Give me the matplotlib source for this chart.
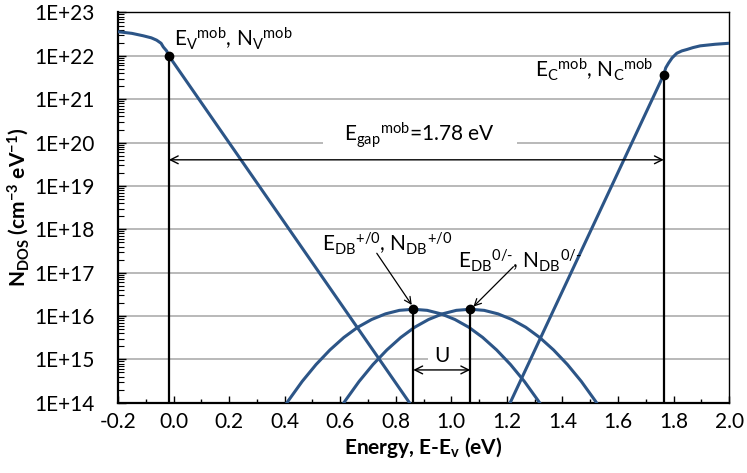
import numpy as np
import matplotlib
matplotlib.use("Agg")
import matplotlib.pyplot as plt
from matplotlib.ticker import MultipleLocator, LogLocator, FuncFormatter, NullFormatter
from matplotlib.patches import Rectangle

plt.rcParams["font.family"] = ["Lato", "DejaVu Sans"]
plt.rcParams["mathtext.fontset"] = "custom"
plt.rcParams["mathtext.rm"] = "Lato"
plt.rcParams["mathtext.it"] = "Lato:italic"
plt.rcParams["mathtext.bf"] = "Lato:bold"
plt.rcParams["axes.unicode_minus"] = False

# ---- data -------------------------------------------------------------
# valence band (extended states) above the mobility edge
vb_E = [-0.20, -0.15, -0.109, -0.08, -0.061, -0.045, -0.037, -0.025, -0.017]
vb_N = [3.6e22, 3.3e22, 2.9e22, 2.6e22, 2.3e22, 1.95e22, 1.6e22, 1.3e22, 1.0e22]

# valence band tail (exponential)
vbt_E = [-0.017, 0.90]
vbt_N = [1.0e22, 3.4e13]

# conduction band tail (exponential)
cbt_E = [1.19, 1.765]
cbt_N = [5.0e13, 3.7e21]

# conduction band (extended states)
cb_E = [1.765, 1.772, 1.782, 1.795, 1.812, 1.83, 1.848, 1.87, 1.896, 1.95, 2.0]
cb_N = [3.7e21, 5.3e21, 6.8e21, 9.0e21, 1.15e22, 1.3e22, 1.4e22, 1.55e22, 1.7e22, 1.85e22, 1.95e22]

# dangling-bond gaussians
db1_E = [0.383, 0.413, 0.463, 0.513, 0.563, 0.613, 0.663, 0.713, 0.763, 0.813, 0.863,
         0.913, 0.963, 1.013, 1.063, 1.113, 1.163, 1.213, 1.263, 1.313, 1.343]
db2_E = [0.588, 0.618, 0.668, 0.718, 0.768, 0.818, 0.868, 0.918, 0.968, 1.018, 1.068,
         1.118, 1.168, 1.218, 1.268, 1.318, 1.368, 1.418, 1.468, 1.518, 1.548]
db1_N = [5.7e13, 1.11e14, 3.1e14, 7.6e14, 1.65e15, 3.2e15, 5.5e15, 8.3e15, 1.12e16, 1.35e16, 1.43e16,
         1.35e16, 1.12e16, 8.3e15, 5.5e15, 3.2e15, 1.65e15, 7.6e14, 3.1e14, 1.11e14, 5.7e13]
db2_N = list(db1_N)

# characteristic points
Ev_mob, Nv_mob = -0.017, 1.0e22
Ec_mob, Nc_mob = 1.765, 3.7e21
Edb_p0, Ndb_p0 = 0.863, 1.43e16
Edb_0m, Ndb_0m = 1.068, 1.43e16
Egap = 1.78

x_ticks = [-0.2, 0.0, 0.2, 0.4, 0.6, 0.8, 1.0, 1.2, 1.4, 1.6, 1.8, 2.0]

# ---- figure -----------------------------------------------------------
fig = plt.figure(figsize=(7.47, 4.73), dpi=100)
ax = fig.add_axes([0.158, 0.1486, 0.818, 0.825])
ax.set_yscale("log")
ax.set_xlim(-0.2, 2.0)
ax.set_ylim(1e14, 1e23)

blue = "#2C5587"
lw_c = 2.2
for E, N in [(vb_E, vb_N), (vbt_E, vbt_N), (cbt_E, cbt_N), (cb_E, cb_N),
             (db1_E, db1_N), (db2_E, db2_N)]:
    ax.plot(E, N, color=blue, lw=lw_c, zorder=3, solid_capstyle="butt")

# drop lines and marker dots
pts_E = [Ev_mob, Ec_mob, Edb_p0, Edb_0m]
pts_N = [Nv_mob, Nc_mob, Ndb_p0, Ndb_0m]
ax.vlines(pts_E, 1e14, pts_N, color="black", lw=1.6, zorder=4)
ax.plot(pts_E, pts_N, "o", color="black", ms=6, zorder=5)

# grid
ax.set_axisbelow(True)
ax.yaxis.grid(True, which="major", color="#a6a6a6", lw=1.1)

# gaps in gridlines behind labels
ax.add_patch(Rectangle((0.538, 10**19.95), 1.237 - 0.538, 10**20.05 - 10**19.95,
                       facecolor="white", edgecolor="none", zorder=1))
ax.add_patch(Rectangle((0.916, 10**14.95), 1.032 - 0.916, 10**15.05 - 10**14.95,
                       facecolor="white", edgecolor="none", zorder=1))

fs = 15
sup = dict(fontsize=fs, zorder=6)
# labels
ax.text(0.0, 1.6e22, r"E$_\mathrm{V}$$^\mathrm{mob}$, N$_\mathrm{V}$$^\mathrm{mob}$",
        ha="left", va="baseline", **sup)
ax.text(1.726, 3.2e21, r"E$_\mathrm{C}$$^\mathrm{mob}$, N$_\mathrm{C}$$^\mathrm{mob}$",
        ha="right", va="baseline", **sup)
ax.text(0.887, 1.05e20, r"E$_\mathrm{gap}$$^\mathrm{mob}$=%.2f eV" % Egap,
        ha="center", va="baseline", **sup)
ax.annotate("", xy=(Ev_mob, 4e19), xytext=(Ec_mob, 4e19),
            arrowprops=dict(arrowstyle="<->", color="black", lw=1.0, mutation_scale=14,
                            shrinkA=0, shrinkB=0), zorder=6)
ax.text(0.966, 8.9e14, "U", ha="center", va="baseline", **sup)
ax.annotate("", xy=(Edb_p0, 5.7e14), xytext=(Edb_0m, 5.7e14),
            arrowprops=dict(arrowstyle="<->", color="black", lw=1.0, mutation_scale=14,
                            shrinkA=0, shrinkB=0), zorder=6)

ax.text(0.5335, 10**17.483, r"E$_\mathrm{DB}$$^\mathrm{+/0}$, N$_\mathrm{DB}$$^\mathrm{+/0}$",
        ha="left", va="baseline", **sup)
ax.annotate("", xy=(0.8576, 10**16.254), xytext=(0.7316, 10**17.447),
            arrowprops=dict(arrowstyle="->", color="black", lw=0.9, mutation_scale=12,
                            shrinkA=0, shrinkB=0), zorder=6)
ax.text(1.0254, 10**17.10, "E$_\\mathrm{DB}$$^\\mathrm{0/\u2010}$, N$_\\mathrm{DB}$$^\\mathrm{0/\u2010}$",
        ha="left", va="baseline", **sup)
ax.annotate("", xy=(1.0795, 10**16.215), xytext=(1.2235, 10**17.137),
            arrowprops=dict(arrowstyle="->", color="black", lw=0.9, mutation_scale=12,
                            shrinkA=0, shrinkB=0), zorder=6)

# axes styling
ax.xaxis.set_major_locator(plt.FixedLocator(x_ticks))
ax.xaxis.set_minor_locator(MultipleLocator(0.1))
ax.xaxis.set_major_formatter(FuncFormatter(lambda v, p: "%.1f" % v))
ax.yaxis.set_major_locator(LogLocator(base=10, numticks=20))
ax.yaxis.set_minor_locator(LogLocator(base=10, subs=np.arange(2, 10), numticks=20))
ax.yaxis.set_minor_formatter(NullFormatter())
ax.yaxis.set_major_formatter(FuncFormatter(lambda v, p: "1E+%02d" % int(round(np.log10(v)))))

ax.tick_params(axis="both", which="both", direction="in", top=False, right=False,
               labelsize=fs, color="black")
ax.tick_params(axis="x", which="major", length=5, width=1.0, pad=7)
ax.tick_params(axis="x", which="minor", length=3, width=1.0)
ax.tick_params(axis="y", which="major", length=6, width=1.0, pad=17)
ax.tick_params(axis="y", which="minor", length=4, width=0.8)

for s in ["left", "bottom"]:
    ax.spines[s].set_linewidth(1.6)
for s in ["top", "right"]:
    ax.spines[s].set_linewidth(1.0)

ax.set_xlabel(r"Energy, E-E$_\mathbf{v}$ (eV)", fontsize=fs, fontweight="bold", labelpad=2)
ax.set_ylabel(r"N$_\mathbf{DOS}$ (cm$^\mathbf{-3}$ eV$^\mathbf{-1}$)", fontsize=fs,
              fontweight="bold", labelpad=2)

fig.savefig("out.png", dpi=100)
